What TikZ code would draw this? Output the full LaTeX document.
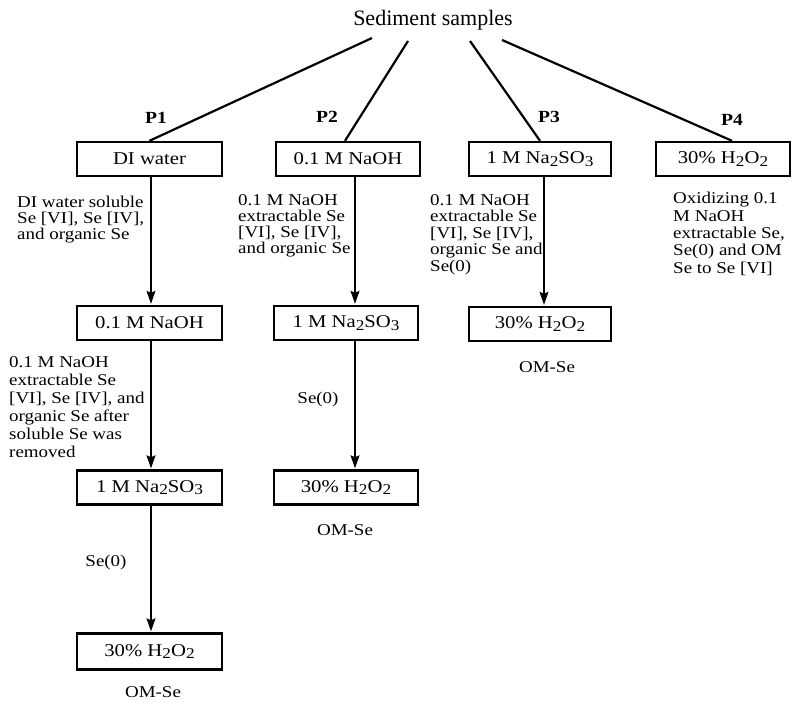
\documentclass[tikz,border=0pt]{standalone}
\usepackage{fontspec}
\setmainfont{Liberation Serif}
\newfontfamily\labfont[FakeStretch=1.15]{Liberation Serif}
\usetikzlibrary{arrows.meta}
\newcommand\sbs[1]{\raisebox{-0.3ex}{\fontsize{15}{15}\selectfont #1}}
\begin{document}
\begin{tikzpicture}[x=1pt,y=-1pt,
  box/.style={draw, line width=2.4pt, minimum height=34pt, inner sep=0pt,
    font=\labfont\fontsize{18}{20}\selectfont},
  lab/.style={anchor=north west, align=left, inner sep=0pt,
    font=\labfont\fontsize{16.5}{#1}\selectfont},
  lab/.default=16.5,
  txt/.style={inner sep=0pt, font=\labfont\fontsize{16.5}{18}\selectfont},
  plab/.style={inner sep=0pt, font=\labfont\bfseries\fontsize{17}{17}\selectfont},
  arr/.style={line width=1.3pt, shorten >=1pt, -{Stealth[length=13pt,width=9pt,inset=2pt]}},
  tline/.style={line width=2.2pt}]
\useasboundingbox (0,0) rectangle (793,703);

\node[inner sep=0pt, font=\fontsize{22}{24}\selectfont] (title) at (433,20) {Sediment samples};
\coordinate (t1) at (372,38);
\coordinate (t2) at (408,41);
\coordinate (t3) at (470,41);
\coordinate (t4) at (502,40);

% row 1
\node[box, minimum width=145pt] (b11) at (149.5,159) {DI water};
\node[box, minimum width=144pt] (b21) at (348,159) {0.1 M NaOH};
\node[box, minimum width=142pt] (b31) at (540,159) {1 M Na\sbs{2}SO\sbs{3}};
\node[box, minimum width=134pt] (b41) at (723,159) {30\% H\sbs{2}O\sbs{2}};

% row 2
\node[box, minimum width=145pt] (b12) at (149.5,323) {0.1 M NaOH};
\node[box, minimum width=144pt] (b22) at (346,323) {1 M Na\sbs{2}SO\sbs{3}};
\node[box, minimum width=142pt] (b32) at (540,324) {30\% H\sbs{2}O\sbs{2}};

% row 3
\node[box, minimum width=145pt] (b13) at (149.5,487.5) {1 M Na\sbs{2}SO\sbs{3}};
\node[box, minimum width=144pt] (b23) at (346,487.5) {30\% H\sbs{2}O\sbs{2}};

% row 4
\node[box, minimum width=145pt, minimum height=36pt] (b14) at (149.5,651.5) {30\% H\sbs{2}O\sbs{2}};

% title lines
\draw[tline] (t1) -- (b11.north);
\draw[tline] (t2) -- ([xshift=-3pt]b21.north);
\draw[tline] (t3) -- (b31.north);
\draw[tline] (t4) -- ([xshift=9pt]b41.north);

% P labels
\node[plab] (p1) at (156,118) {P1};
\node[plab] (p2) at (327,117) {P2};
\node[plab] (p3) at (549,117) {P3};
\node[plab] (p4) at (732,120) {P4};

% arrows
\draw[arr] ([xshift=1.5pt]b11.south) -- ([xshift=1.5pt]b12.north);
\draw[arr] ([xshift=1.5pt]b12.south) -- ([xshift=1.5pt]b13.north);
\draw[arr] ([xshift=1.5pt]b13.south) -- ([xshift=1.5pt]b14.north);
\draw[arr] ([xshift=7pt]b21.south) -- ([xshift=9pt]b22.north);
\draw[arr] ([xshift=9pt]b22.south) -- ([xshift=9pt]b23.north);
\draw[arr] ([xshift=4pt]b31.south) -- ([xshift=4pt]b32.north);

% labels
\node[lab=16] (l11) at (17,196) {DI water soluble\\Se [VI], Se [IV],\\and organic Se};
\node[lab=18] (l12) at (9,356) {0.1 M NaOH\\extractable Se\\{[VI]}, Se [IV], and\\organic Se after\\soluble Se was\\removed};
\node[txt] (s13) at (106,563) {Se(0)};
\node[txt] (o14) at (153,692) {OM-Se};

\node[lab=16] (l21) at (238,194) {0.1 M NaOH\\extractable Se\\{[VI]}, Se [IV],\\and organic Se};
\node[txt] (s22) at (318,400) {Se(0)};
\node[txt] (o23) at (345,530) {OM-Se};

\node[lab=16.5] (l31) at (430,194) {0.1 M NaOH\\extractable Se\\{[VI]}, Se [IV],\\organic Se and\\Se(0)};
\node[txt] (o32) at (547,367) {OM-Se};

\node[lab=17.4] (l41) at (673,192) {Oxidizing 0.1\\M NaOH\\extractable Se,\\Se(0) and OM\\Se to Se [VI]};
\end{tikzpicture}
\end{document}
